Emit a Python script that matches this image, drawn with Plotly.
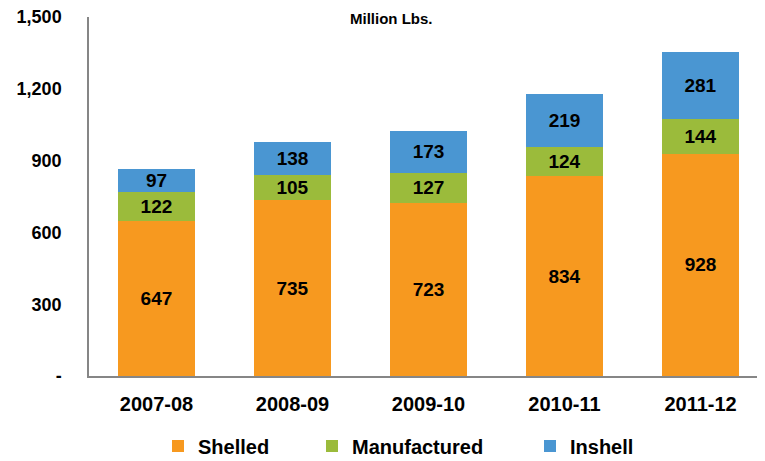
import plotly.graph_objects as go

years = ["2007-08", "2008-09", "2009-10", "2010-11", "2011-12"]
shelled = [647, 735, 723, 834, 928]
manufactured = [122, 105, 127, 124, 144]
inshell = [97, 138, 173, 219, 281]

y_tickvals = [0, 300, 600, 900, 1200, 1500]
y_ticktext = ["-", "300", "600", "900", "1,200", "1,500"]

colors = {"Shelled": "#F7991F", "Manufactured": "#9BBB3B", "Inshell": "#4A96D2"}
FONT = "Liberation Sans, Arial, sans-serif"

W, H = 757, 453

fig = go.Figure()
series = [("Shelled", shelled, "legend"), ("Manufactured", manufactured, "legend2"), ("Inshell", inshell, "legend3")]
for name, vals, leg in series:
    fig.add_trace(go.Bar(
        x=years, y=vals, name=name, legend=leg,
        marker=dict(color=colors[name], line=dict(width=0)),
        width=0.57,
        text=[str(v) for v in vals],
        textposition="inside", insidetextanchor="middle",
        textfont=dict(family=FONT, size=19, color="black", weight="bold"),
        hoverinfo="skip",
    ))

def leg(xpx):
    return dict(
        xref="container", yref="container", x=xpx / W, y=1 - 438 / H,
        xanchor="left", yanchor="middle", orientation="h",
        font=dict(family=FONT, size=20, color="black", weight="bold"),
        bgcolor="rgba(0,0,0,0)", borderwidth=0, itemwidth=30,
    )

fig.update_layout(
    width=W, height=H,
    margin=dict(l=81, r=0, t=9, b=85, autoexpand=False),
    paper_bgcolor="white", plot_bgcolor="white",
    barmode="stack",
    showlegend=True,
    legend=leg(150), legend2=leg(304), legend3=leg(522),
    uniformtext=dict(minsize=19, mode="show"),
    xaxis=dict(
        type="category",
        range=[-0.496, 4.474], showgrid=False, showline=True, linecolor="#868686", linewidth=1.5,
        ticks="", tickfont=dict(family=FONT, size=20, color="black", weight="bold"),
        ticklabelstandoff=9, zeroline=False, fixedrange=True,
    ),
    yaxis=dict(
        range=[0, 1500], showgrid=False, showline=True, linecolor="#868686", linewidth=1.5,
        tickvals=y_tickvals, ticktext=y_ticktext, ticks="",
        tickfont=dict(family=FONT, size=18, color="black", weight="bold"),
        ticklabelstandoff=22, ticklabeloverflow="allow",
        zeroline=False, fixedrange=True,
    ),
    annotations=[dict(
        text="Million Lbs.", xref="paper", yref="paper", x=(383 - 81) / 676, y=1 + 9 / 359,
        xanchor="center", yanchor="top", showarrow=False,
        font=dict(family=FONT, size=15, color="black", weight="bold"),
    )],
)

fig.write_html("out.html")
